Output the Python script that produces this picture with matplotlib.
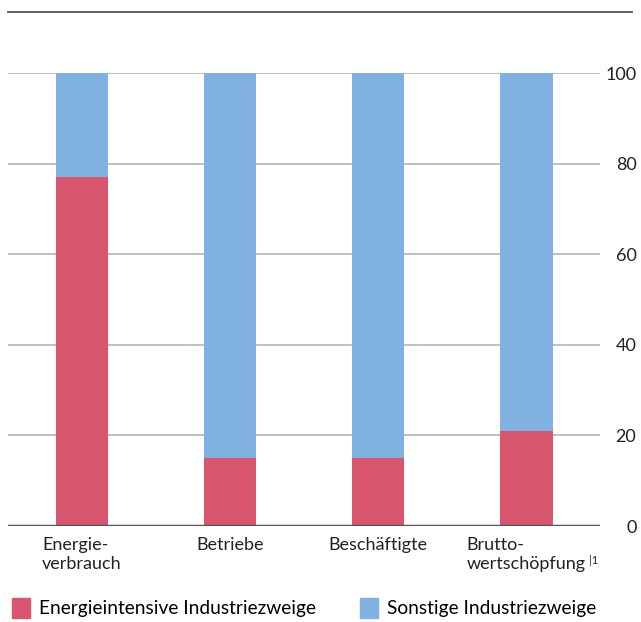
import matplotlib.pyplot as plt
from matplotlib.patches import Patch
from matplotlib.lines import Line2D

plt.rcParams['font.family'] = ['Lato', 'DejaVu Sans']

categories = ['Energie-\nverbrauch', 'Betriebe', 'Beschäftigte', 'Brutto-\nwertschöpfung']
energieintensiv = [77, 15, 15, 21]
sonstige = [23, 85, 85, 79]
yticks = [0, 20, 40, 60, 80, 100]
legend_labels = ['Energieintensive Industriezweige', 'Sonstige Industriezweige']

red = '#d9566f'
blue = '#80b1e0'

fig = plt.figure(figsize=(6.41, 6.22), dpi=100)
ax = fig.add_axes([0.0125, 0.1543, 0.924, 0.7283])

x = range(len(categories))
ax.bar(x, energieintensiv, width=0.355, color=red, zorder=3)
ax.bar(x, sonstige, width=0.355, bottom=energieintensiv, color=blue, zorder=3)

ax.set_xlim(-0.5, 3.5)
ax.set_ylim(0, 100)
ax.set_yticks(yticks)
for y in yticks[1:]:
    ax.axhline(y, color='#b4b4b4', lw=1.2, zorder=1)
ax.axhline(0, color='#555555', lw=2.5, zorder=4)

for s in ax.spines.values():
    s.set_visible(False)

ax.yaxis.tick_right()
ax.tick_params(axis='y', length=0, pad=26, labelsize=13, colors='#222222')
for lab in ax.get_yticklabels():
    lab.set_horizontalalignment('right')

ax.set_xticks(list(x))
labels = ax.set_xticklabels(categories, fontsize=13, color='#222222', multialignment='left',
                            va='top', linespacing=1.25)
ax.tick_params(axis='x', length=0, pad=8)
# Fußnotenzeichen hinter "wertschöpfung"
ax.annotate('|1', xy=(1, 0.5), xycoords=labels[3], xytext=(2.5, 0),
            textcoords='offset points', fontsize=8, color='#222222', ha='left', va='top')

fig.add_artist(Line2D([8 / 641, 632 / 641], [1 - 12 / 622, 1 - 12 / 622],
                      color='#555555', lw=1.3, transform=fig.transFigure))

handles = [Patch(color=red), Patch(color=blue)]
fig.legend(handles, legend_labels, loc='lower left', bbox_to_anchor=(-0.008, -0.022),
           ncol=2, frameon=False, fontsize=13.8, handlelength=0.95, handleheight=1.3,
           handletextpad=0.45, columnspacing=2.3)

fig.savefig('out.png', dpi=100)
